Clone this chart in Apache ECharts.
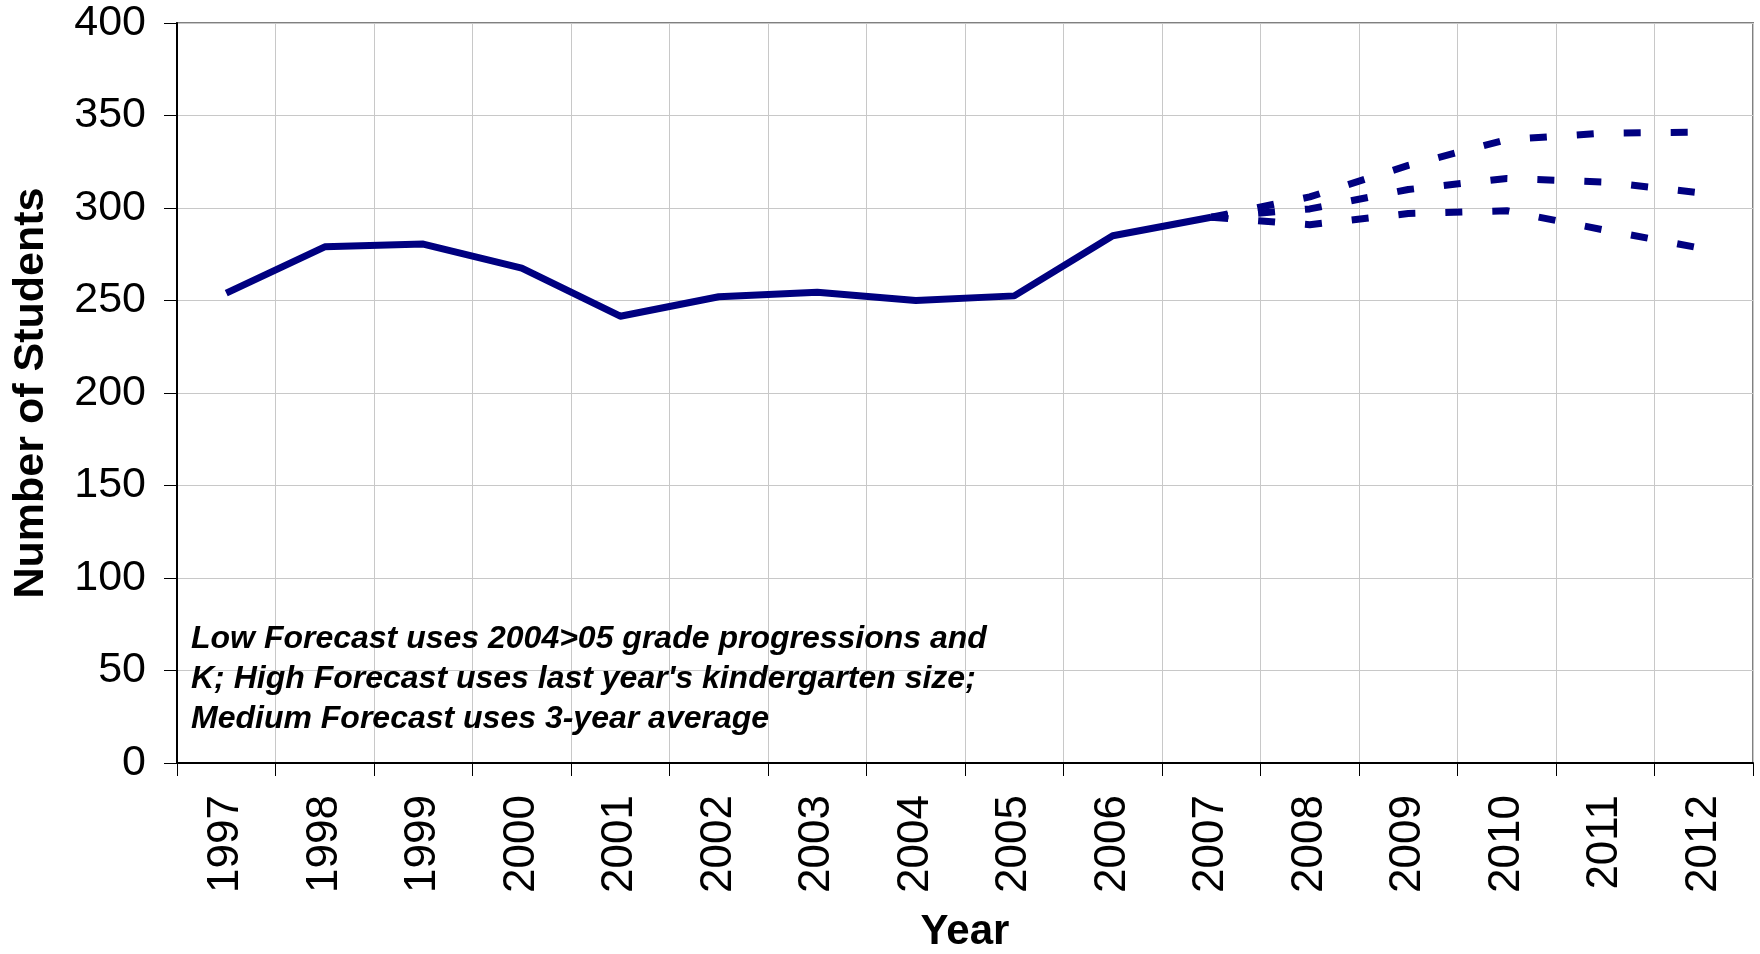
<!DOCTYPE html>
<html>
<head>
<meta charset="utf-8">
<script src="https://cdn.jsdelivr.net/npm/echarts@6/dist/echarts.min.js"></script>
<style>
html,body{margin:0;padding:0;background:#fff;}
#chart{width:1760px;height:954px;}
</style>
</head>
<body>
<div id="chart"></div>
<script>
const years = ['1997','1998','1999','2000','2001','2002','2003','2004','2005','2006','2007','2008','2009','2010','2011','2012'];
const actual = [254, 279, 280.5, 267.5, 241.5, 252, 254.5, 250, 252.5, 285, 295, null, null, null, null, null];
const highForecast = [null, null, null, null, null, null, null, null, null, null, 295, 306, 323, 337, 340.5, 341];
const mediumForecast = [null, null, null, null, null, null, null, null, null, null, 295, 299.5, 310, 316, 314, 308];
const lowForecast = [null, null, null, null, null, null, null, null, null, null, 295, 291, 297, 298.5, 288, 278];
const yTicks = {min: 0, max: 400, interval: 50};
const note = "Low Forecast uses 2004>05 grade progressions and\nK; High Forecast uses last year's kindergarten size;\nMedium Forecast uses 3-year average";

const FONT = '"Liberation Sans", Arial, sans-serif';
const navy = '#000080';
const chart = echarts.init(document.getElementById('chart'), null, {renderer: 'canvas'});
const dashed = (name, data) => ({
  name, type: 'line', data, symbol: 'none', connectNulls: false,
  lineStyle: {color: navy, width: 7, type: [17, 30], cap: 'butt'},
  z: 3
});
chart.setOption({
  animation: false,
  backgroundColor: '#fff',
  grid: {left: 177, right: 7, top: 23, bottom: 191, outerBoundsMode: 'none', containLabel: false,
         show: true, borderColor: '#808080', borderWidth: 2},
  xAxis: {
    type: 'category', data: years, boundaryGap: true,
    name: 'Year', nameLocation: 'middle', nameGap: 148,
    nameTextStyle: {fontFamily: FONT, fontSize: 42, fontWeight: 'bold', color: '#000'},
    axisLine: {show: true, lineStyle: {color: '#000', width: 2}},
    axisTick: {show: true, length: 13, interval: 0, lineStyle: {color: '#000', width: 1}},
    axisLabel: {rotate: 90, interval: 0, fontFamily: FONT, fontSize: 44, color: '#000', margin: 32},
    splitLine: {show: true, interval: 0, lineStyle: {color: '#c8c8c8', width: 1}}
  },
  yAxis: {
    type: 'value', min: yTicks.min, max: yTicks.max, interval: yTicks.interval,
    name: 'Number of Students', nameLocation: 'middle', nameGap: 124, nameRotate: 90,
    nameTextStyle: {fontFamily: FONT, fontSize: 43, fontWeight: 'bold', color: '#000'},
    axisLine: {show: true, lineStyle: {color: '#000', width: 2}},
    axisTick: {show: true, length: 13, lineStyle: {color: '#000', width: 1}},
    axisLabel: {fontFamily: FONT, fontSize: 43, color: '#000', margin: 31},
    splitLine: {show: true, lineStyle: {color: '#c8c8c8', width: 1}}
  },
  graphic: [{
    type: 'text', left: 191, top: 619, z: 10,
    style: {text: note, font: 'italic bold 32px ' + FONT, fill: '#000', lineHeight: 40}
  }],
  series: [
    {name: 'Actual', type: 'line', data: actual, symbol: 'none',
     lineStyle: {color: navy, width: 7, join: 'round'}, z: 4},
    dashed('High Forecast', highForecast),
    dashed('Medium Forecast', mediumForecast),
    dashed('Low Forecast', lowForecast)
  ]
});
</script>
</body>
</html>
